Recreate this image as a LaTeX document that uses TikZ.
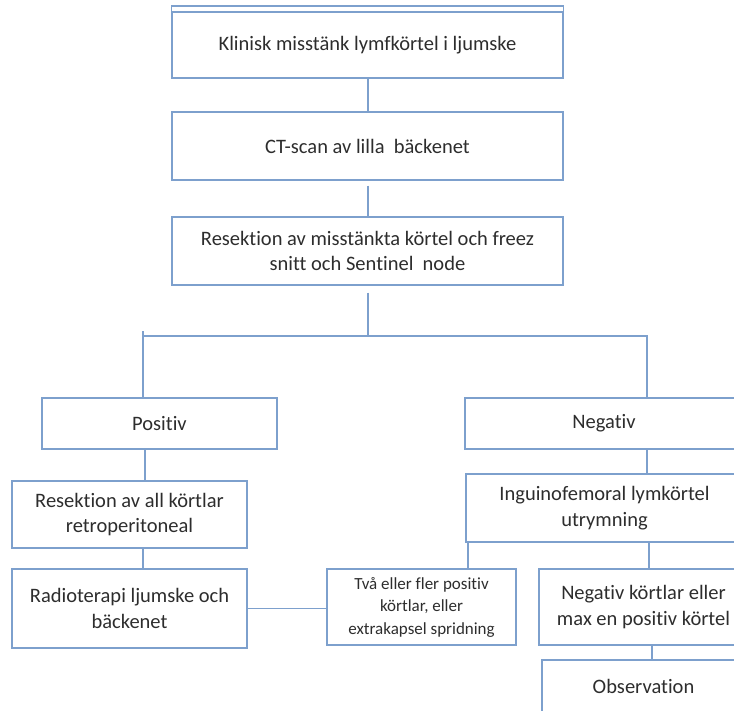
\documentclass[tikz,border=0pt]{standalone}
\usepackage{fontspec}
\setmainfont{Carlito}[Ligatures=NoCommon]
\definecolor{bl}{RGB}{125,160,205}
\definecolor{tx}{RGB}{45,45,45}
\begin{document}
\begin{tikzpicture}[x=1pt,y=-1pt,
  box/.style={draw=bl,line width=1.2pt,rectangle,inner sep=0pt,align=center,text=tx,
    font=\fontsize{20.5}{25.5}\selectfont},
  smallbox/.style={box,font=\fontsize{17}{22.5}\selectfont},
  conn/.style={draw=bl,line width=1.2pt}]
\useasboundingbox (0,0) rectangle (734,710);
\clip (0,0) rectangle (734,710);
% nodes
\node[box,minimum width=391,minimum height=66] (top) at (367.5,45) {Klinisk misstänk lymfkörtel i ljumske};
\node[box,minimum width=391,minimum height=68] (ct) at (367.5,146) {CT-scan av lilla\ \ bäckenet};
\node[box,minimum width=391,minimum height=68] (res) at (367.5,251) {Resektion av misstänkta körtel och freez\\snitt och Sentinel\ \ node};
\node[box,minimum width=235,minimum height=51] (pos) at (159.5,423.5) {Positiv};
\node[box,minimum width=278,minimum height=51] (neg) at (604,423.5) {Negativ};
\node[box,minimum width=235,minimum height=67] (resall) at (129.5,514.5) {Resektion av all körtlar\\retroperitoneal};
\node[box,minimum width=235,minimum height=79] (radio) at (129.5,608.5) {Radioterapi ljumske och\\bäckenet};
\node[box,minimum width=277,minimum height=68] (ing) at (604.5,508) {Inguinofemoral lymkörtel\\utrymning};
\node[smallbox,minimum width=189,minimum height=76] (tva) at (421.5,607) {Två eller fler positiv\\körtlar, eller\\extrakapsel spridning};
\node[box,minimum width=209,minimum height=76] (negk) at (643.5,607) {Negativ körtlar eller\\max en positiv körtel};
\node[box,minimum width=203,minimum height=52] (obs) at (643.5,686) {Observation};
% extra top line of first box
\draw[conn] (top.north west) -- ++(0,-5.5) -- ([yshift=5.5pt]top.north east) -- (top.north east);
% connector x positions
\coordinate (cA) at (368,0);
\coordinate (lx) at (143,336);
\coordinate (rx) at (647,336);
\coordinate (cP) at (145,0);
\coordinate (cR) at (143,0);
\coordinate (cN) at (647,0);
\coordinate (cT) at (468,0);
\coordinate (cK) at (649,0);
\coordinate (cO) at (652,0);
% connectors
\draw[conn] (top.south -| cA) -- (ct.north -| cA);
\draw[conn] ([yshift=-5pt]ct.south -| cA) -- (res.north -| cA);
\draw[conn] ([yshift=-7pt]res.south -| cA) -- (cA |- lx);
\draw[conn] (pos.north -| lx) -- (lx) -- (rx) -- (neg.north -| rx);
\draw[conn] (lx) -- ++(0,-5);
\draw[conn] (pos.south -| cP) -- (resall.north -| cP);
\draw[conn] (resall.south -| cR) -- (radio.north -| cR);
\draw[conn] (radio.east) -- (tva.west |- radio.east);
\draw[conn] (neg.south -| cN) -- (ing.north -| cN);
\draw[conn] (ing.south -| cT) -- (tva.north -| cT);
\draw[conn] (ing.south -| cK) -- (negk.north -| cK);
\draw[conn] (negk.south -| cO) -- (obs.north -| cO);
\end{tikzpicture}
\end{document}
